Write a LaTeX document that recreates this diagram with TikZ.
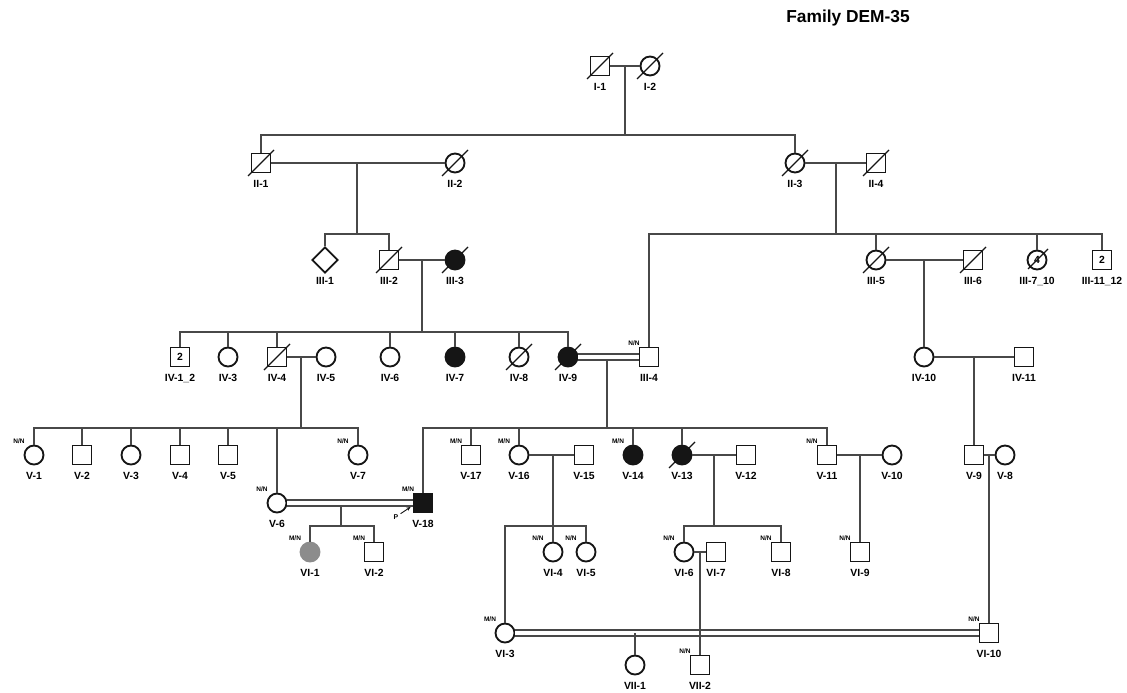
\documentclass[tikz,border=0pt]{standalone}
\usepackage{fontspec}
\setmainfont{Liberation Sans}
\usetikzlibrary{shapes.geometric, arrows.meta}
\definecolor{pdline}{HTML}{484848}
\definecolor{pdsym}{HTML}{151515}
\definecolor{pdgray}{HTML}{8C8C8C}

\begin{document}
\begin{tikzpicture}[x=0.75pt, y=-0.75pt, font=\bfseries\fontsize{7.8}{9}\selectfont,
    male/.style={draw=pdsym, line width=1.4pt, rectangle, minimum size=14.25pt, inner sep=0pt},
    female/.style={draw=pdsym, line width=1.4pt, circle, minimum size=14.25pt, inner sep=0pt},
    unk/.style={draw=pdsym, line width=1.4pt, diamond, minimum size=19.5pt, inner sep=0pt},
    aff/.style={fill=pdsym},
    carr/.style={fill=pdgray, draw=pdgray},
    lab/.style={anchor=base, inner sep=0pt},
    gt/.style={anchor=base, inner sep=0pt, font=\bfseries\fontsize{4.9}{5.5}\selectfont},
    ln/.style={draw=pdline, line width=0.9pt},
    dbl/.style={ln, double=white, double distance=3.5pt},
    dead/.style={draw=pdsym, line width=1pt}]
  \useasboundingbox (0,0) rectangle (1127,692);

  \node[font=\bfseries\fontsize{13}{15}\selectfont] (title) at (848,18) {Family DEM-35};

  % generation I and II
  \node[male] (I1) at (600,66) {};
  \node[female] (I2) at (650,66) {};
  \node[male] (II1) at (261,163) {};
  \node[female] (II2) at (455,163) {};
  \node[female] (II3) at (795,163) {};
  \node[male] (II4) at (876,163) {};

  % generation III
  \node[unk] (III1) at (325,260) {};
  \node[male] (III2) at (389,260) {};
  \node[female, aff] (III3) at (455,260) {};
  \node[female] (III5) at (876,260) {};
  \node[male] (III6) at (973,260) {};
  \node[female] (III7) at (1037,260) {4};
  \node[male] (III11) at (1102,260) {2};

  % generation IV
  \node[male] (IV1) at (180,357) {2};
  \node[female] (IV3) at (228,357) {};
  \node[male] (IV4) at (277,357) {};
  \node[female] (IV5) at (326,357) {};
  \node[female] (IV6) at (390,357) {};
  \node[female, aff] (IV7) at (455,357) {};
  \node[female] (IV8) at (519,357) {};
  \node[female, aff] (IV9) at (568,357) {};
  \node[male] (III4) at (649,357) {};
  \node[female] (IV10) at (924,357) {};
  \node[male] (IV11) at (1024,357) {};

  % generation V
  \node[female] (V1) at (34,455) {};
  \node[male] (V2) at (82,455) {};
  \node[female] (V3) at (131,455) {};
  \node[male] (V4) at (180,455) {};
  \node[male] (V5) at (228,455) {};
  \node[female] (V6) at (277,503) {};
  \node[female] (V7) at (358,455) {};
  \node[male, aff] (V18) at (423,503) {};
  \node[male] (V17) at (471,455) {};
  \node[female] (V16) at (519,455) {};
  \node[male] (V15) at (584,455) {};
  \node[female, aff] (V14) at (633,455) {};
  \node[female, aff] (V13) at (682,455) {};
  \node[male] (V12) at (746,455) {};
  \node[male] (V11) at (827,455) {};
  \node[female] (V10) at (892,455) {};
  \node[male] (V9) at (974,455) {};
  \node[female] (V8) at (1005,455) {};

  % generation VI and VII
  \node[female, carr] (VI1) at (310,552) {};
  \node[male] (VI2) at (374,552) {};
  \node[female] (VI3) at (505,633) {};
  \node[female] (VI4) at (553,552) {};
  \node[female] (VI5) at (586,552) {};
  \node[female] (VI6) at (684,552) {};
  \node[male] (VI7) at (716,552) {};
  \node[male] (VI8) at (781,552) {};
  \node[male] (VI9) at (860,552) {};
  \node[male] (VI10) at (989,633) {};
  \node[female] (VII1) at (635,665) {};
  \node[male] (VII2) at (700,665) {};

  % deceased
  \foreach \n in {I1,I2,II1,II2,II3,II4,III2,III3,III5,III6,IV4,IV8,IV9,V13}
    \draw[dead] ([shift={(-13,13)}]\n.center) -- ([shift={(13,-13)}]\n.center);
  \draw[dead] ([shift={(-9,9)}]III7.center) -- ([shift={(11,-11)}]III7.center);

  % labels
  \foreach \n/\t in {I1/I-1, I2/I-2, II1/II-1, II2/II-2, II3/II-3, II4/II-4,
      III1/III-1, III2/III-2, III3/III-3, III5/III-5, III6/III-6,
      III7/III-7\_10, III11/III-11\_12, IV1/IV-1\_2, IV3/IV-3, IV4/IV-4,
      IV5/IV-5, IV6/IV-6, IV7/IV-7, IV8/IV-8, IV9/IV-9, III4/III-4,
      IV10/IV-10, IV11/IV-11, V1/V-1, V2/V-2, V3/V-3, V4/V-4, V5/V-5,
      V6/V-6, V7/V-7, V18/V-18, V17/V-17, V16/V-16, V15/V-15, V14/V-14,
      V13/V-13, V12/V-12, V11/V-11, V10/V-10, V9/V-9, V8/V-8,
      VI1/VI-1, VI2/VI-2, VI3/VI-3, VI4/VI-4, VI5/VI-5, VI6/VI-6,
      VI7/VI-7, VI8/VI-8, VI9/VI-9, VI10/VI-10, VII1/VII-1, VII2/VII-2}
    \node[lab] (\n-l) at ([yshift=-18pt]\n.center) {\t};

  % genotypes
  \foreach \n in {III4,V1,V7,V6,V11,VI4,VI5,VI6,VI8,VI9,VI10,VII2}
    \node[gt] (\n-g) at ([shift={(-11.25pt,9pt)}]\n.center) {N/N};
  \foreach \n in {V18,V17,V16,V14,VI1,VI2,VI3}
    \node[gt] (\n-g) at ([shift={(-11.25pt,9pt)}]\n.center) {M/N};

  % proband
  \node[gt, anchor=center, font=\bfseries\fontsize{5.2}{6}\selectfont] (P) at (396,517) {P};
  \coordinate (Pt) at ([shift={(-2,4)}]V18.west);
  \draw[draw=pdsym, line width=0.7pt, -{Stealth[length=3.2pt, width=2.8pt]}]
    ([shift={(1.5pt,0.5pt)}]P.north east) -- (Pt);

  % couples and sibships
  \coordinate (c1) at (625,66);   \coordinate (s1) at (625,135);
  \coordinate (c2) at (357,163);  \coordinate (s2) at (357,234);
  \coordinate (c3) at (836,163);  \coordinate (s3) at (836,234);
  \coordinate (c4) at (422,260);  \coordinate (s4) at (422,332);
  \coordinate (c5) at (924,260);
  \coordinate (c6) at (301,357);  \coordinate (s6) at (301,428);
  \coordinate (c7) at (607,357);  \coordinate (s7) at (607,428);
  \coordinate (c8) at (974,357);
  \coordinate (c9) at (341,503);  \coordinate (s9) at (341,526);
  \coordinate (c10) at (553,455); \coordinate (s10) at (553,526);
  \coordinate (c11) at (714,455); \coordinate (s11) at (714,526);
  \coordinate (c12) at (860,455);
  \coordinate (c13) at (989,455);
  \coordinate (c14) at (700,552);
  \coordinate (c15) at (635,633);

  \draw[ln] (I1) -- (I2);
  \draw[ln] (c1) -- (s1);
  \draw[ln] (II1.north) |- (s1) -| (II3.north);

  \draw[ln] (II1) -- (II2);
  \draw[ln] (c2) -- (s2);
  \draw[ln] (III1.north) |- (s2) -| (III2.north);

  \draw[ln] (II3) -- (II4);
  \draw[ln] (c3) -- (s3);
  \draw[ln] (III4.north) |- (s3) -| (III11.north);
  \foreach \n in {III5,III7}
    \draw[ln] (\n.north) -- (\n.north |- s3);

  \draw[ln] (III2) -- (III3);
  \draw[ln] (c4) -- (s4);
  \draw[ln] (IV1.north) |- (s4) -| (IV9.north);
  \foreach \n in {IV3,IV4,IV6,IV7,IV8}
    \draw[ln] (\n.north) -- (\n.north |- s4);

  \draw[ln] (III5) -- (III6);
  \draw[ln] (c5) -- (IV10.north);

  \draw[ln] (IV4) -- (IV5);
  \draw[ln] (c6) -- (s6);
  \draw[ln] (V1.north) |- (s6) -| (V7.north);
  \foreach \n in {V2,V3,V4,V5,V6}
    \draw[ln] (\n.north) -- (\n.north |- s6);

  \draw[ln] (c7) -- (s7);
  \draw[ln] (V18.north) |- (s7) -| (V11.north);
  \foreach \n in {V17,V16,V14,V13}
    \draw[ln] (\n.north) -- (\n.north |- s7);
  \draw[dbl] (IV9) -- (III4);

  \draw[ln] (IV10) -- (IV11);
  \draw[ln] (c8) -- (V9.north);

  \draw[ln] (c9) -- (s9);
  \draw[ln] (VI1.north) |- (s9) -| (VI2.north);
  \draw[dbl] (V6) -- (V18);

  \draw[ln] (V16) -- (V15);
  \draw[ln] (c10) -- (VI4.north);
  \draw[ln] (VI3.north) |- (s10) -| (VI5.north);

  \draw[ln] (V13) -- (V12);
  \draw[ln] (c11) -- (s11);
  \draw[ln] (VI6.north) |- (s11) -| (VI8.north);

  \draw[ln] (V11) -- (V10);
  \draw[ln] (c12) -- (VI9.north);

  \draw[ln] (V9) -- (V8);
  \draw[ln] (c13) -- (VI10.north);

  \draw[ln] (VI6) -- (VI7);
  \draw[dbl] (VI3) -- (VI10);
  \draw[ln] (c15) -- (VII1.north);
  \draw[ln] (c14) -- (VII2.north);
\end{tikzpicture}
\end{document}
